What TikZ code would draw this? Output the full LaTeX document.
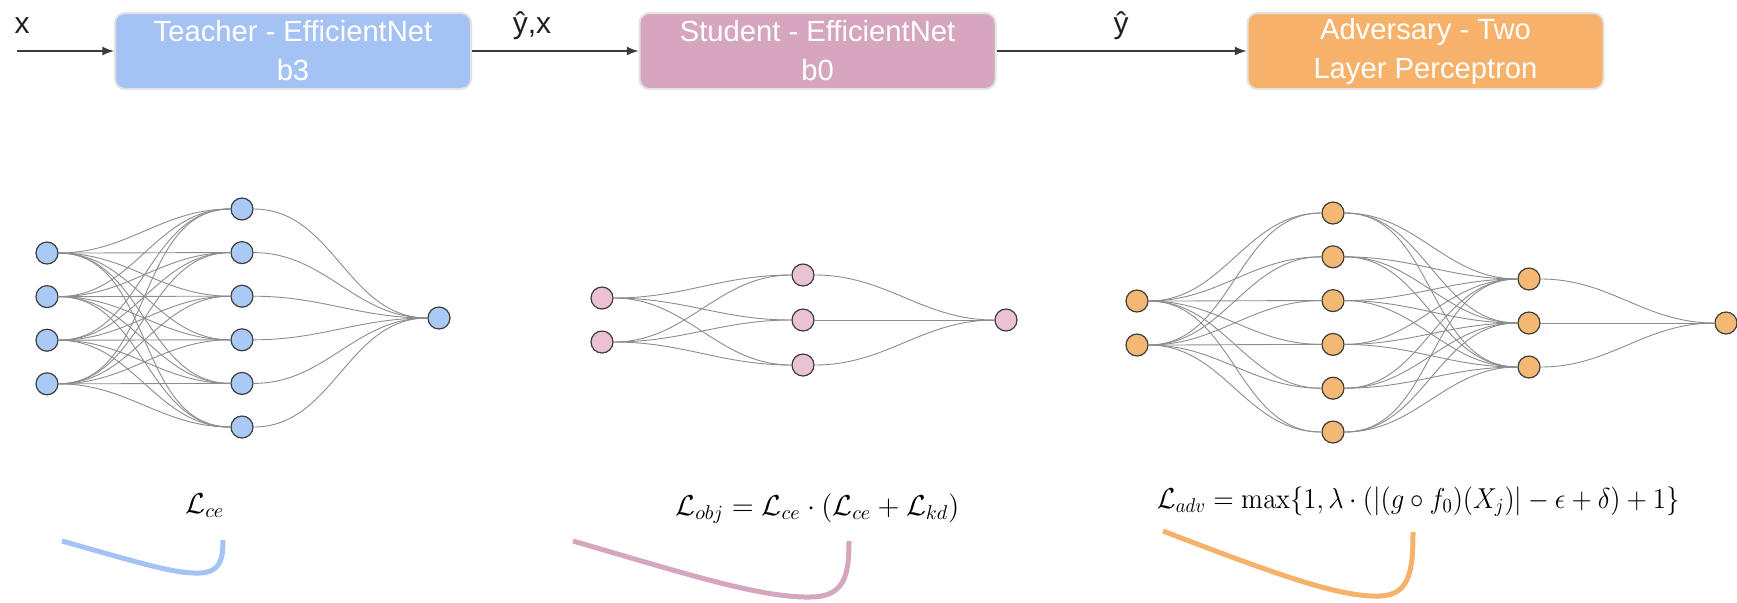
\documentclass[tikz,border=0pt]{standalone}
\usepackage[no-math]{fontspec}
\newfontfamily\boxfont{Liberation Sans}

\definecolor{tblue}{HTML}{A4C2F4}
\definecolor{spink}{HTML}{D5A6BD}
\definecolor{aorange}{HTML}{F6B26B}
\definecolor{tnode}{HTML}{A9CAF4}
\definecolor{snode}{HTML}{EBC1D5}
\definecolor{anode}{HTML}{F3B873}
\definecolor{nodeborder}{HTML}{3D3D3D}
\definecolor{wiregray}{HTML}{8C8C8C}
\definecolor{flowgray}{HTML}{3B3B3B}
\definecolor{boxrim}{HTML}{E3E3E3}
\definecolor{labeltext}{HTML}{1F1F1F}

\begin{document}
\begin{tikzpicture}[
		x={(0.5pt,0pt)},
		y={(0pt,-0.5pt)},
		block/.style={draw=boxrim,line width=1pt,rounded corners=5pt,minimum width=178pt,minimum height=38pt,inner sep=1pt,align=center,text=white,font=\boxfont\fontsize{14.6}{19.5}\selectfont},
		lbl/.style={anchor=base,text=labeltext,font=\boxfont\fontsize{15}{18}\selectfont},
		flow/.style={-latex,draw=flowgray,line width=1pt},
		neuron/.style={circle,draw=nodeborder,line width=0.6pt,minimum size=11pt,inner sep=0pt},
		wire/.style={draw=wiregray,line width=0.45pt},
		formula/.style={anchor=base west,inner sep=0pt,font=\fontsize{14.4}{17}\selectfont},
		loss/.style={line width=2.5pt},
	]
		\useasboundingbox (0,0) rectangle (1737,602);
	
		% pipeline
		\node[block,fill=tblue] (teacher) at (293,51) {Teacher - EfficientNet\\ b3};
		\node[block,fill=spink] (student) at (817.5,51) {Student - EfficientNet\\ b0};
		\node[block,fill=aorange] (adversary) at (1425.5,51) {Adversary - Two\\ Layer Perceptron};
		\coordinate (input) at (17,51);
		\draw[flow] (input) -- (teacher);
		\draw[flow] (teacher) -- (student);
		\draw[flow] (student) -- (adversary);
		\node[lbl] (xlbl) at (22,33) {x};
		\node[lbl] (yxlbl) at (532,33) {ŷ,x};
		\node[lbl] (ylbl) at (1121,33) {ŷ};
	
		% teacher net
		\foreach \i in {1,...,4}
			\node[neuron,fill=tnode] (ti\i) at (47,{209.4+43.6*\i}) {};
		\foreach \j in {1,...,6}
			\node[neuron,fill=tnode] (th\j) at (242,{165.4+43.6*\j}) {};
		\node[neuron,fill=tnode] (tout) at (439,318) {};
		\foreach \i in {1,...,4}{
			\foreach \j in {1,...,6}
				\draw[wire] (ti\i) to[out=0,in=180] (th\j);
		}
		\foreach \j in {1,...,6}
			\draw[wire] (th\j) to[out=0,in=180] (tout);
	
		% student net
		\foreach \i in {1,2}
			\node[neuron,fill=snode] (si\i) at (602,{254+44*\i}) {};
		\foreach \j in {1,2,3}
			\node[neuron,fill=snode] (sh\j) at (803,{230+45*\j}) {};
		\node[neuron,fill=snode] (sout) at (1006,320) {};
		\foreach \i in {1,2}{
			\foreach \j in {1,2,3}
				\draw[wire] (si\i) to[out=0,in=180] (sh\j);
		}
		\foreach \j in {1,2,3}
			\draw[wire] (sh\j) to[out=0,in=180] (sout);
	
		% adversary net
		\foreach \i in {1,2}
			\node[neuron,fill=anode] (ai\i) at (1137,{257+44*\i}) {};
		\foreach \j in {1,...,6}
			\node[neuron,fill=anode] (ah\j) at (1333,{169.2+43.8*\j}) {};
		\foreach \k in {1,2,3}
			\node[neuron,fill=anode] (ak\k) at (1529,{235+44*\k}) {};
		\node[neuron,fill=anode] (aout) at (1726,323) {};
		\foreach \i in {1,2}{
			\foreach \j in {1,...,6}
				\draw[wire] (ai\i) to[out=0,in=180] (ah\j);
		}
		\foreach \j in {1,...,6}{
			\foreach \k in {1,2,3}
				\draw[wire] (ah\j) to[out=0,in=180] (ak\k);
		}
		\foreach \k in {1,2,3}
			\draw[wire] (ak\k) to[out=0,in=180] (aout);
	
		% losses
		\node[formula] (lce) at (185,513) {$\mathcal{L}_{ce}$};
		\node[formula] (lobj) at (675,515) {$\mathcal{L}_{obj} = \mathcal{L}_{ce} \cdot (\mathcal{L}_{ce} + \mathcal{L}_{kd})$};
		\node[formula] (ladv) at (1157,508) {\scalebox{0.93}[1]{$\mathcal{L}_{adv} = \max\{1, \lambda \cdot (|(g \circ f_0)(X_j)| - \epsilon + \delta) + 1\}$}};
		\draw[loss,draw=tblue] (62,541) .. controls (140,563) and (175,574) .. (200,573) .. controls (220,572) and (223,560) .. (223,540);
		\draw[loss,draw=spink] (573,541) .. controls (680,572) and (760,598) .. (810,597) .. controls (845,597) and (849,575) .. (849,541);
		\draw[loss,draw=aorange] (1163,531) .. controls (1270,572) and (1340,598) .. (1380,596) .. controls (1410,595) and (1413,570) .. (1413,532);
	\end{tikzpicture}
\end{document}
